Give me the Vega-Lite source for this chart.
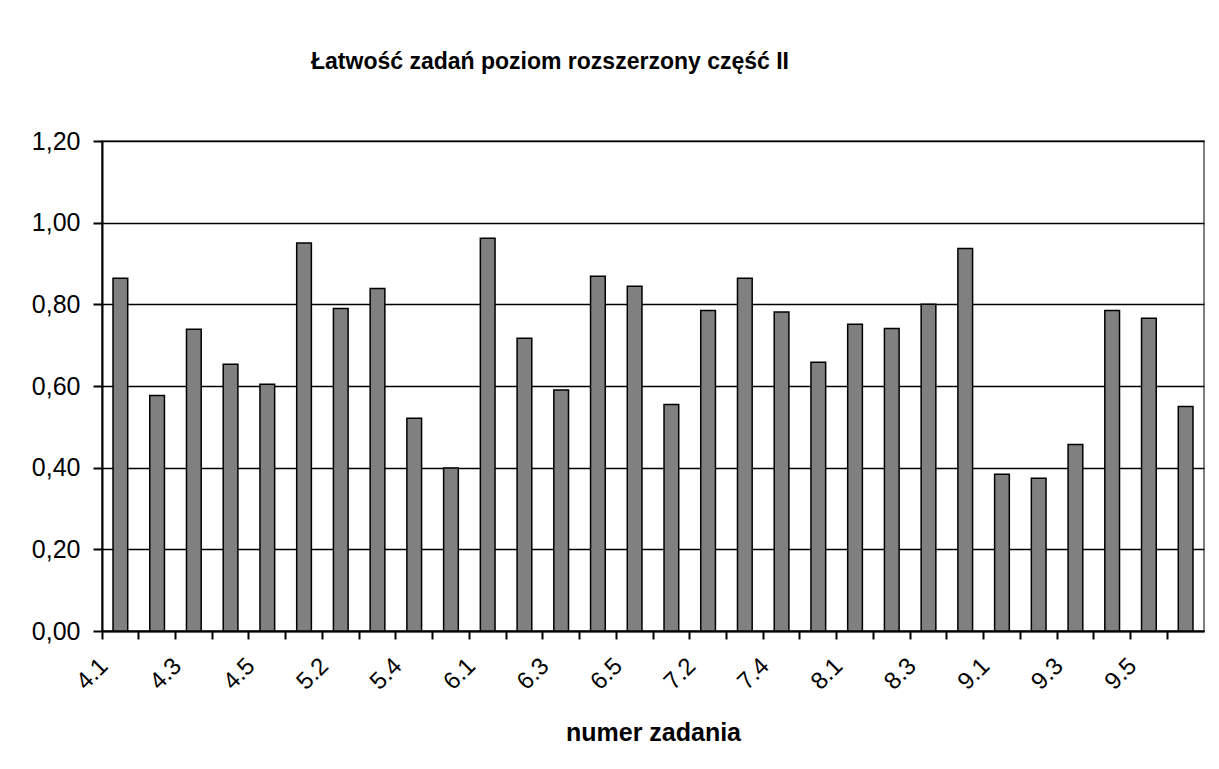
{
  "$schema": "https://vega.github.io/schema/vega-lite/v6.json",
  "autosize": "none",
  "width": 1102,
  "height": 490,
  "padding": {"left": 102, "top": 141, "right": 15, "bottom": 138},
  "background": "white",
  "title": {
    "text": "Łatwość zadań poziom rozszerzony część II",
    "font": "Liberation Sans",
    "fontSize": 23,
    "fontWeight": "bold",
    "color": "black",
    "anchor": "middle",
    "baseline": "alphabetic",
    "offset": 37,
    "dx": -103
  },
  "config": {
    "view": {"stroke": "#808080", "strokeWidth": 2},
    "font": "Liberation Sans"
  },
  "data": {
    "values": [
      {"zadanie": "4.1", "latwosc": 0.864},
      {"zadanie": "4.2", "latwosc": 0.577},
      {"zadanie": "4.3", "latwosc": 0.739},
      {"zadanie": "4.4", "latwosc": 0.653},
      {"zadanie": "4.5", "latwosc": 0.604},
      {"zadanie": "5.1", "latwosc": 0.95},
      {"zadanie": "5.2", "latwosc": 0.79},
      {"zadanie": "5.3", "latwosc": 0.839},
      {"zadanie": "5.4", "latwosc": 0.521},
      {"zadanie": "5.5", "latwosc": 0.399},
      {"zadanie": "6.1", "latwosc": 0.962},
      {"zadanie": "6.2", "latwosc": 0.717},
      {"zadanie": "6.3", "latwosc": 0.59},
      {"zadanie": "6.4", "latwosc": 0.869},
      {"zadanie": "6.5", "latwosc": 0.844},
      {"zadanie": "7.1", "latwosc": 0.555},
      {"zadanie": "7.2", "latwosc": 0.785},
      {"zadanie": "7.3", "latwosc": 0.864},
      {"zadanie": "7.4", "latwosc": 0.781},
      {"zadanie": "7.5", "latwosc": 0.658},
      {"zadanie": "8.1", "latwosc": 0.751},
      {"zadanie": "8.2", "latwosc": 0.741},
      {"zadanie": "8.3", "latwosc": 0.8},
      {"zadanie": "8.4", "latwosc": 0.937},
      {"zadanie": "9.1", "latwosc": 0.384},
      {"zadanie": "9.2", "latwosc": 0.374},
      {"zadanie": "9.3", "latwosc": 0.457},
      {"zadanie": "9.4", "latwosc": 0.785},
      {"zadanie": "9.5", "latwosc": 0.766},
      {"zadanie": "9.6", "latwosc": 0.55}
    ]
  },
  "mark": {
    "type": "bar",
    "width": {"band": 0.4},
    "fill": "#808080",
    "stroke": "black",
    "strokeWidth": 1.5
  },
  "encoding": {
    "x": {
      "field": "zadanie",
      "type": "nominal",
      "sort": null,
      "scale": {"paddingInner": 0, "paddingOuter": 0},
      "axis": {
        "title": "numer zadania",
        "titleFont": "Liberation Sans",
        "titleFontSize": 25,
        "titleFontWeight": "bold",
        "titleColor": "black",
        "titleY": 109,
        "titleBaseline": "alphabetic",
        "bandPosition": 0,
        "labelOffset": -16,
        "labelAngle": -45,
        "labelAlign": "right",
        "labelBaseline": "middle",
        "labelFontSize": 24,
        "labelColor": "black",
        "labelPadding": 23,
        "labelExpr": "indexof(['4.1','4.3','4.5','5.2','5.4','6.1','6.3','6.5','7.2','7.4','8.1','8.3','9.1','9.3','9.5'], datum.value) >= 0 ? datum.value : ''",
        "tickColor": "black",
        "tickSize": 8,
        "tickWidth": 2,
        "domainColor": "black",
        "domainWidth": 2,
        "grid": false
      }
    },
    "y": {
      "field": "latwosc",
      "type": "quantitative",
      "scale": {"domain": [0, 1.2], "nice": false},
      "axis": {
        "title": null,
        "values": [0, 0.2, 0.4, 0.6, 0.8, 1.0, 1.2],
        "labelExpr": "replace(format(datum.value, '.2f'), '.', ',')",
        "labelFontSize": 25,
        "labelColor": "black",
        "labelPadding": 13,
        "tickColor": "black",
        "tickSize": 9,
        "tickWidth": 2,
        "domainColor": "black",
        "domainWidth": 2,
        "grid": true,
        "gridColor": "black",
        "gridWidth": 1.5,
        "gridOpacity": 1
      }
    }
  }
}
